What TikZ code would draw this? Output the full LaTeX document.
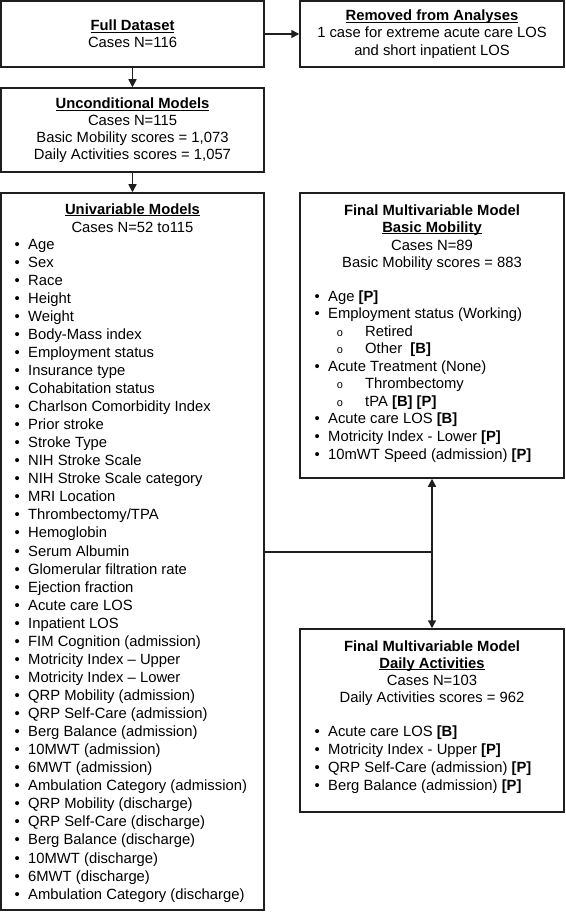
\documentclass[tikz,border=0pt]{standalone}
\usepackage{fontspec}
\setmainfont{Liberation Sans}
\newfontfamily\monofam{Liberation Mono}
\usetikzlibrary{arrows.meta}
\newsavebox\ulbox
\newcommand\ulbf[1]{\sbox\ulbox{\bfseries #1}\rlap{\rule[-2.4pt]{\wd\ulbox}{1.1pt}}\usebox\ulbox}
\newcommand\bl{\llap{\textbullet\hspace{8.4pt}}}
\newcommand\sbl{\llap{{\monofam\fontsize{11}{11}\selectfont o}\hspace{22pt}}}
\begin{document}
\begin{tikzpicture}[x=1pt,y=-1pt,
  box/.style={draw=black!88, line width=1.5pt, rectangle, inner sep=0pt},
  txt/.style={inner sep=0pt, anchor=base, font=\fontsize{14.8}{17}\selectfont},
  itm/.style={txt, anchor=base west},
  arr/.style={draw=black!88, line width=1.5pt, -{Triangle[length=8pt,width=8pt]}}]
\useasboundingbox (0,0) rectangle (565,912);
% boxes
\node[box, minimum width=263pt, minimum height=66pt] (full) at (132.5,34) {};
\node[box, minimum width=264pt, minimum height=66pt] (removed) at (432,34) {};
\node[box, minimum width=263pt, minimum height=84pt] (uncond) at (132.5,130) {};
\node[box, minimum width=263pt, minimum height=717pt] (univ) at (132.5,551.5) {};
\node[box, minimum width=264pt, minimum height=285pt] (bm) at (432,335.5) {};
\node[box, minimum width=264pt, minimum height=183pt] (da) at (432,720.5) {};
% connectors
\draw[arr] (full.east) -- (removed.west);
\draw[arr] (full.south) -- (uncond.north);
\draw[arr] (uncond.south) -- (univ.north);
\coordinate (j) at (432,552);
\draw[draw=black!88, line width=1.5pt] (univ.east |- j) -- (j);
\draw[arr] (j) -- (bm.south);
\draw[arr] (j) -- (da.north);
% full dataset
\node[txt] (f1) at (132.5,31) {\ulbf{Full Dataset}};
\node[txt] (f2) at (132.5,48) {Cases N=116};
% removed
\node[txt] (r1) at (432,21) {\ulbf{Removed from Analyses}};
\node[txt] (r2) at (432,38) {1 case for extreme acute care LOS};
\node[txt] (r3) at (432,56) {and short inpatient LOS};
% unconditional
\node[txt] (c1) at (132.5,109) {\ulbf{Unconditional Models}};
\node[txt] (c2) at (132.5,126) {Cases N=115};
\node[txt] (c3) at (132.5,143) {Basic Mobility scores = 1,073};
\node[txt] (c4) at (132.5,160) {Daily Activities scores = 1,057};
% univariable
\node[txt] (v1) at (132.5,214) {\ulbf{Univariable Models}};
\node[txt] (v2) at (132.5,232) {Cases N=52 to115};
\foreach \t [count=\i] in {Age, Sex, Race, Height, Weight, Body-Mass index,
  Employment status, Insurance type, Cohabitation status, Charlson Comorbidity Index,
  Prior stroke, Stroke Type, NIH Stroke Scale, NIH Stroke Scale category, MRI Location,
  Thrombectomy/TPA, Hemoglobin, Serum Albumin, Glomerular filtration rate, Ejection fraction,
  Acute care LOS, Inpatient LOS, FIM Cognition (admission), Motricity Index – Upper,
  Motricity Index – Lower, QRP Mobility (admission), QRP Self-Care (admission),
  Berg Balance (admission), 10MWT (admission), 6MWT (admission),
  Ambulation Category (admission), QRP Mobility (discharge), QRP Self-Care (discharge),
  Berg Balance (discharge), 10MWT (discharge), 6MWT (discharge),
  Ambulation Category (discharge)}
  \node[itm] (u\i) at (28,{249+18.06*(\i-1)}) {\bl\t};
% basic mobility
\node[txt] (b1) at (432,215) {\bfseries Final Multivariable Model};
\node[txt] (b2) at (432,232) {\ulbf{Basic Mobility}};
\node[txt] (b3) at (432,250) {Cases N=89};
\node[txt] (b4) at (432,267) {Basic Mobility scores = 883};
\node[itm] (bi1) at (328,301) {\bl Age \textbf{[P]}};
\node[itm] (bi2) at (328,318.6) {\bl Employment status (Working)};
\node[itm] (bi3) at (365,336.1) {\sbl Retired};
\node[itm] (bi4) at (365,353.7) {\sbl Other~ \textbf{[B]}};
\node[itm] (bi5) at (328,371.2) {\bl Acute Treatment (None)};
\node[itm] (bi6) at (365,388.8) {\sbl Thrombectomy};
\node[itm] (bi7) at (365,406.4) {\sbl tPA \textbf{[B] [P]}};
\node[itm] (bi8) at (328,423.9) {\bl Acute care LOS \textbf{[B]}};
\node[itm] (bi9) at (328,441.5) {\bl Motricity Index - Lower \textbf{[P]}};
\node[itm] (bi10) at (328,459) {\bl 10mWT Speed (admission) \textbf{[P]}};
% daily activities
\node[txt] (d1) at (432,651) {\bfseries Final Multivariable Model};
\node[txt] (d2) at (432,668) {\ulbf{Daily Activities}};
\node[txt] (d3) at (432,685) {Cases N=103};
\node[txt] (d4) at (432,702) {Daily Activities scores = 962};
\node[itm] (di1) at (328,736) {\bl Acute care LOS \textbf{[B]}};
\node[itm] (di2) at (328,754) {\bl Motricity Index - Upper \textbf{[P]}};
\node[itm] (di3) at (328,772) {\bl QRP Self-Care (admission) \textbf{[P]}};
\node[itm] (di4) at (328,790) {\bl Berg Balance (admission) \textbf{[P]}};
\end{tikzpicture}
\end{document}
